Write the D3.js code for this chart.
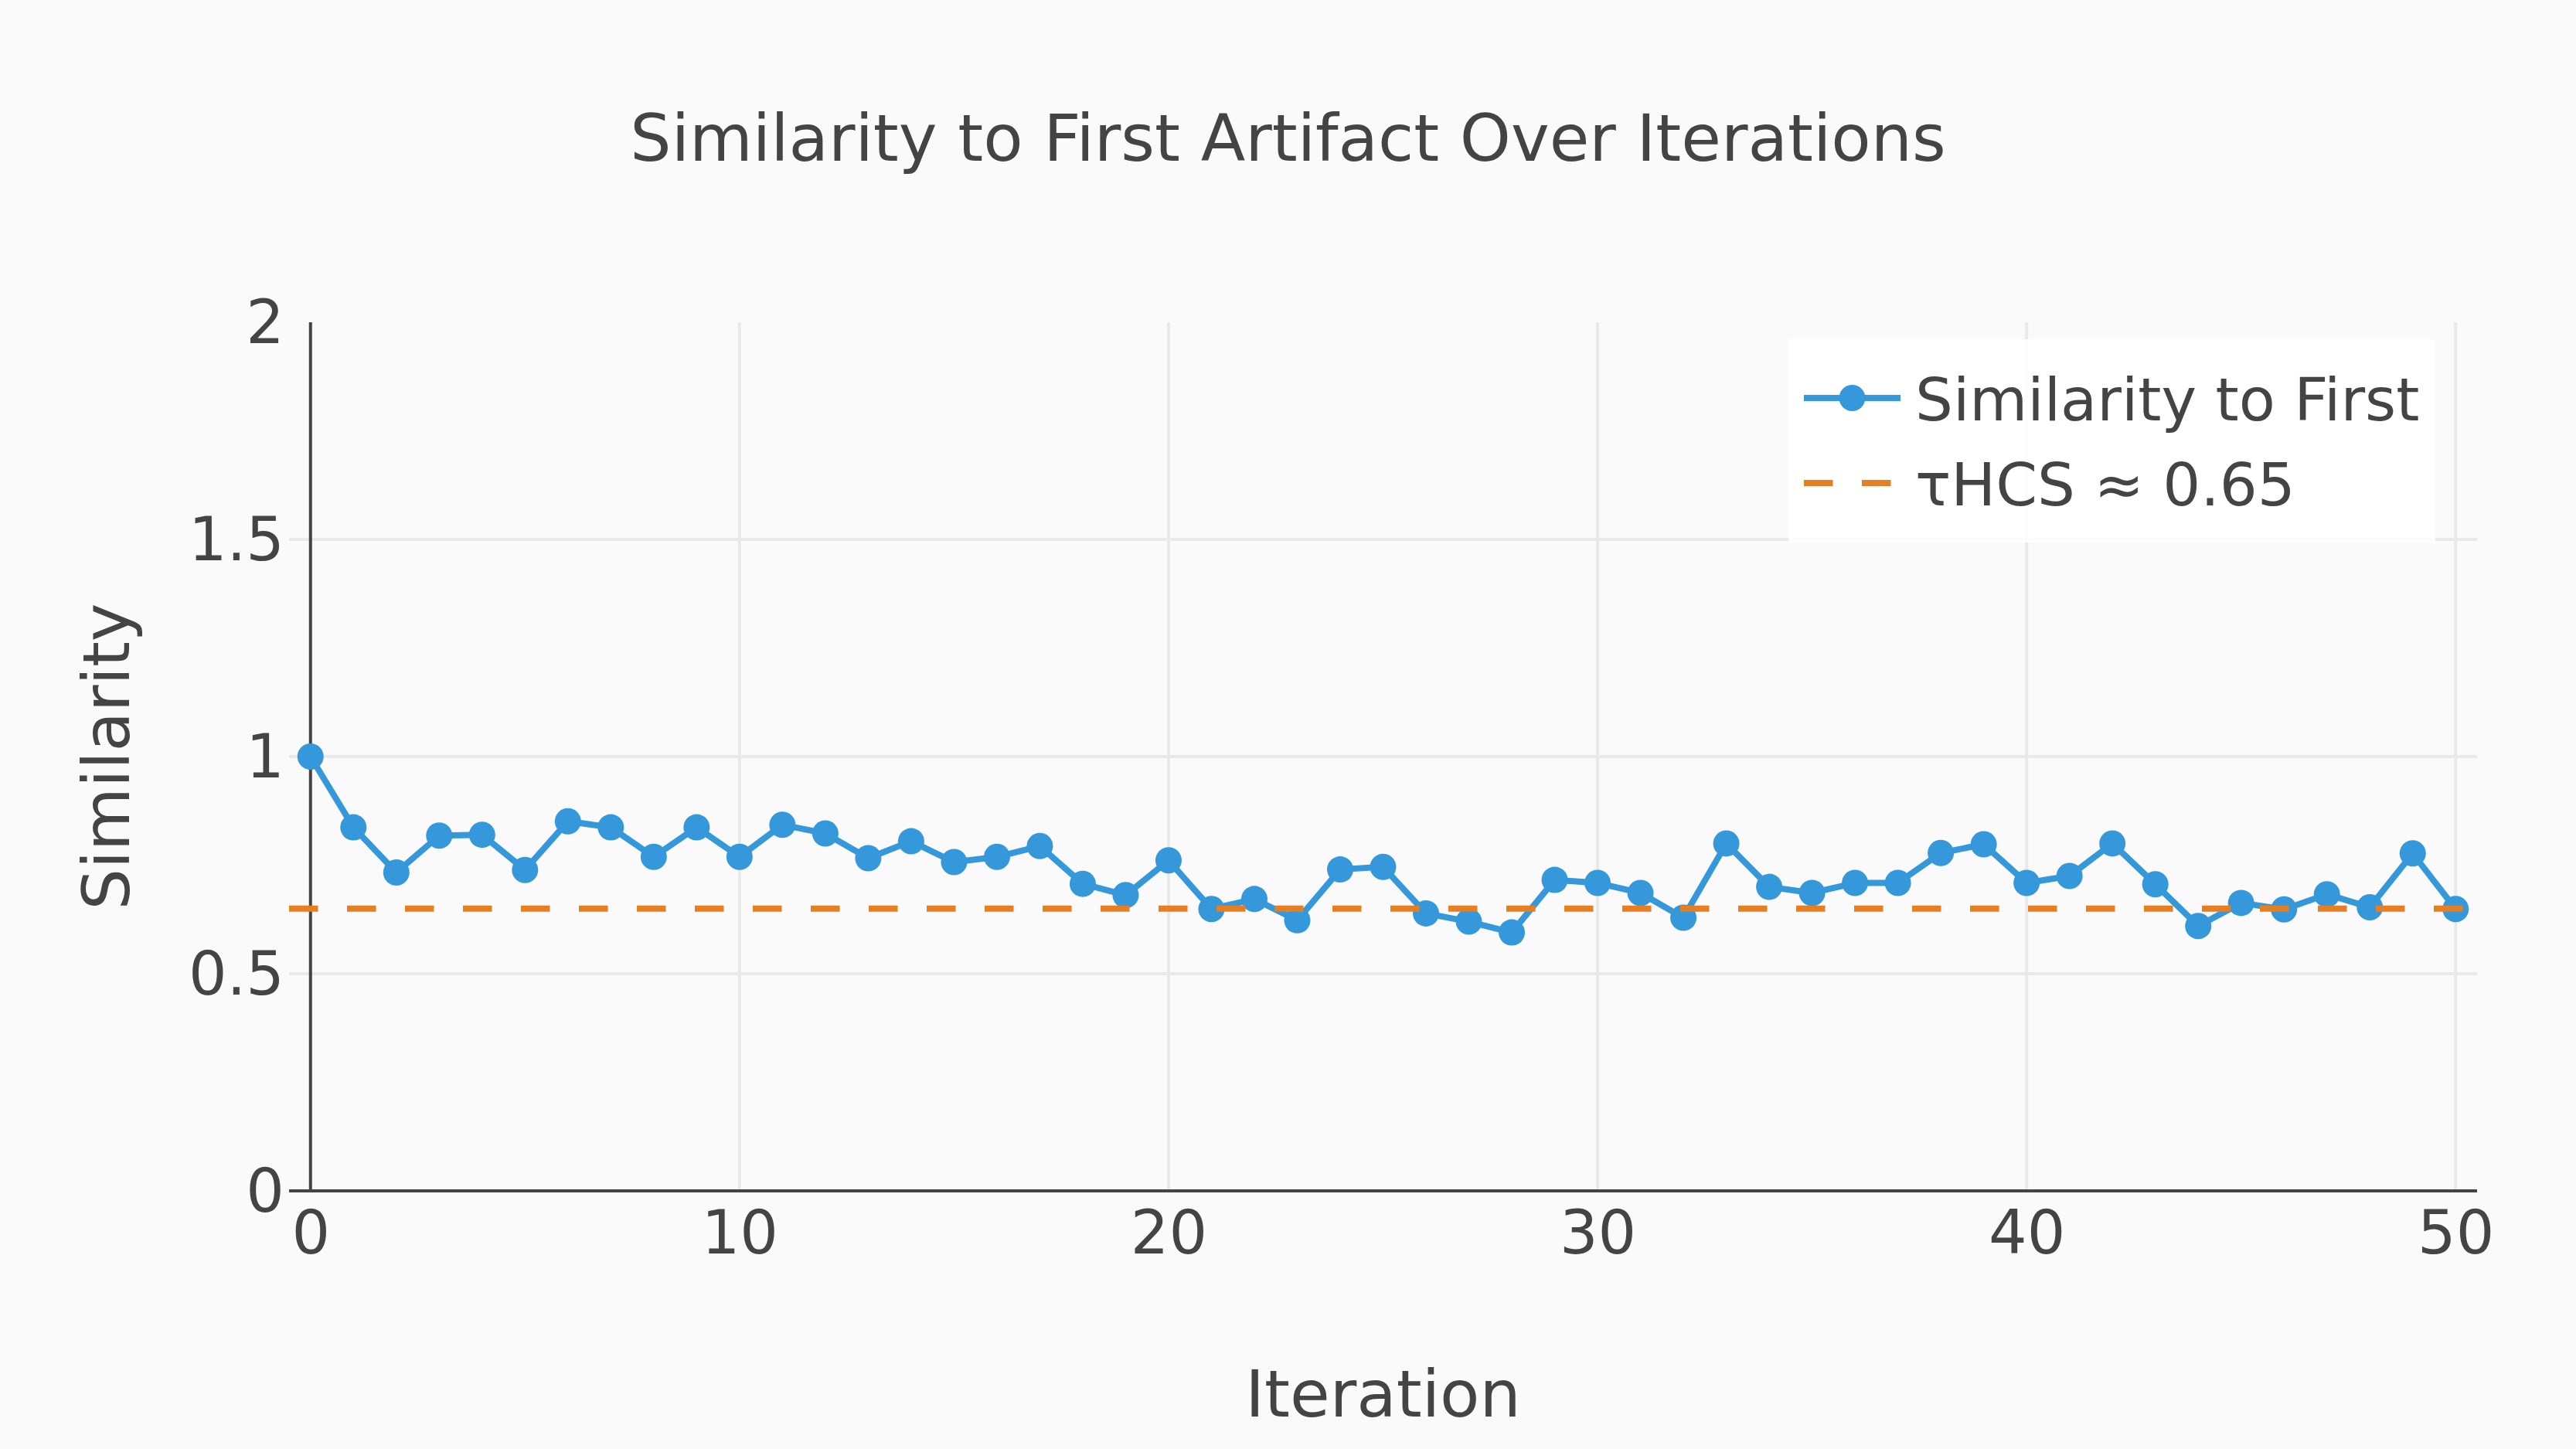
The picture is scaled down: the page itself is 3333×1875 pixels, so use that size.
<!DOCTYPE html>
<html>
<head>
<meta charset="utf-8">
<script src="https://cdn.jsdelivr.net/npm/d3@7/dist/d3.min.js"></script>
<style>
  html, body { margin: 0; padding: 0; background: #fafafa; }
  svg { display: block; }
  text { font-family: "DejaVu Sans", Verdana, sans-serif; fill: #444; }
</style>
</head>
<body>
<svg id="chart" width="3333" height="1875"></svg>
<script>
// ---- data ----
const iterations = d3.range(0, 51);
const similarity = [1.0, 0.837, 0.733, 0.818, 0.820, 0.739, 0.851, 0.837, 0.769, 0.837,
                    0.769, 0.843, 0.823, 0.766, 0.805, 0.757, 0.769, 0.794, 0.707, 0.681,
                    0.761, 0.649, 0.672, 0.623, 0.740, 0.746, 0.639, 0.620, 0.595, 0.716,
                    0.709, 0.686, 0.629, 0.800, 0.700, 0.686, 0.709, 0.709, 0.778, 0.798,
                    0.709, 0.725, 0.800, 0.706, 0.610, 0.663, 0.648, 0.683, 0.653, 0.777,
                    0.649];
const threshold = 0.65;
const xTicks = [0, 10, 20, 30, 40, 50];
const yTicks = [0, 0.5, 1, 1.5, 2];
const seriesNames = ["Similarity to First", "τHCS ≈ 0.65"];
const titleText = "Similarity to First Artifact Over Iterations";
const xTitle = "Iteration";
const yTitle = "Similarity";

// ---- layout ----
const W = 3333, H = 1875;
const plot = { left: 374, right: 3205, top: 417, bottom: 1541 };
const blue = "#3498db", orange = "#e67e22", grid = "#e9e9e9", axisCol = "#444";

const svg = d3.select("#chart");
svg.append("rect").attr("width", W).attr("height", H).attr("fill", "#fafafa");

const x = d3.scaleLinear().domain([-0.5, 50.5]).range([plot.left, plot.right]);
const y = d3.scaleLinear().domain([0, 2]).range([plot.bottom, plot.top]);

// gridlines
const g = svg.append("g");
g.selectAll("line.hg").data(yTicks.filter(v => v > 0 && v < 2)).enter().append("line")
  .attr("x1", plot.left).attr("x2", plot.right)
  .attr("y1", d => y(d)).attr("y2", d => y(d))
  .attr("stroke", grid).attr("stroke-width", 4);
g.selectAll("line.vg").data(xTicks.filter(v => v > 0)).enter().append("line")
  .attr("y1", plot.top).attr("y2", plot.bottom)
  .attr("x1", d => x(d)).attr("x2", d => x(d))
  .attr("stroke", grid).attr("stroke-width", 4);

// zero lines / axis lines
svg.append("line").attr("x1", x(0)).attr("x2", x(0)).attr("y1", plot.top).attr("y2", plot.bottom)
  .attr("stroke", axisCol).attr("stroke-width", 4);
svg.append("line").attr("x1", plot.left).attr("x2", plot.right).attr("y1", y(0)).attr("y2", y(0))
  .attr("stroke", axisCol).attr("stroke-width", 4);

// axes (tick labels)
const xAxis = d3.axisBottom(x).tickValues(xTicks).tickFormat(d => String(d)).tickSize(0);
const xa = svg.append("g").attr("transform", `translate(0,${plot.bottom})`).call(xAxis);
xa.select(".domain").remove();
xa.selectAll("text").attr("dy", null).attr("y", 81)
  .style("font-size", "78px").style("font-family", "DejaVu Sans").attr("fill", "#444");

const yAxis = d3.axisLeft(y).tickValues(yTicks).tickFormat(d => String(d)).tickSize(0).tickPadding(6);
const ya = svg.append("g").attr("transform", `translate(${plot.left},0)`).call(yAxis);
ya.select(".domain").remove();
ya.selectAll("text").attr("dy", "0.34em")
  .style("font-size", "78px").style("font-family", "DejaVu Sans").attr("fill", "#444");

// series line
const pts = iterations.map((it, i) => [it, similarity[i]]);
const lineGen = d3.line().x(d => x(d[0])).y(d => y(d[1]));
svg.append("path").datum(pts).attr("d", lineGen)
  .attr("fill", "none").attr("stroke", blue).attr("stroke-width", 8).attr("stroke-linejoin", "round");
svg.append("g").selectAll("circle").data(pts).enter().append("circle")
  .attr("cx", d => x(d[0])).attr("cy", d => y(d[1])).attr("r", 17).attr("fill", blue);

// threshold dashed line
svg.append("line")
  .attr("x1", x.range()[0]).attr("x2", x.range()[1])
  .attr("y1", y(threshold)).attr("y2", y(threshold))
  .attr("stroke", orange).attr("stroke-width", 8).attr("stroke-dasharray", "37.5,37.5");

// titles
svg.append("text").attr("x", W / 2).attr("y", 208).attr("text-anchor", "middle")
  .style("font-size", "84px").text(titleText);
svg.append("text").attr("x", (plot.left + plot.right) / 2).attr("y", 1833).attr("text-anchor", "middle")
  .style("font-size", "84px").text(xTitle);
svg.append("text").attr("transform", `translate(167,${(plot.top + plot.bottom) / 2}) rotate(-90)`)
  .attr("text-anchor", "middle").style("font-size", "84px").text(yTitle);

// legend
const lg = svg.append("g");
lg.append("rect").attr("x", 2314).attr("y", 439).attr("width", 837).attr("height", 263)
  .attr("fill", "#ffffff").attr("fill-opacity", 0.85);
lg.append("line").attr("x1", 2334).attr("x2", 2459).attr("y1", 515).attr("y2", 515)
  .attr("stroke", blue).attr("stroke-width", 8);
lg.append("circle").attr("cx", 2396.5).attr("cy", 515).attr("r", 17).attr("fill", blue);
lg.append("text").attr("x", 2478).attr("y", 544).style("font-size", "77px").text(seriesNames[0]);
lg.append("line").attr("x1", 2334).attr("x2", 2459).attr("y1", 625).attr("y2", 625)
  .attr("stroke", orange).attr("stroke-width", 8).attr("stroke-dasharray", "37.5,37.5");
lg.append("text").attr("x", 2478).attr("y", 654).style("font-size", "77px").text(seriesNames[1]);
</script>
</body>
</html>
